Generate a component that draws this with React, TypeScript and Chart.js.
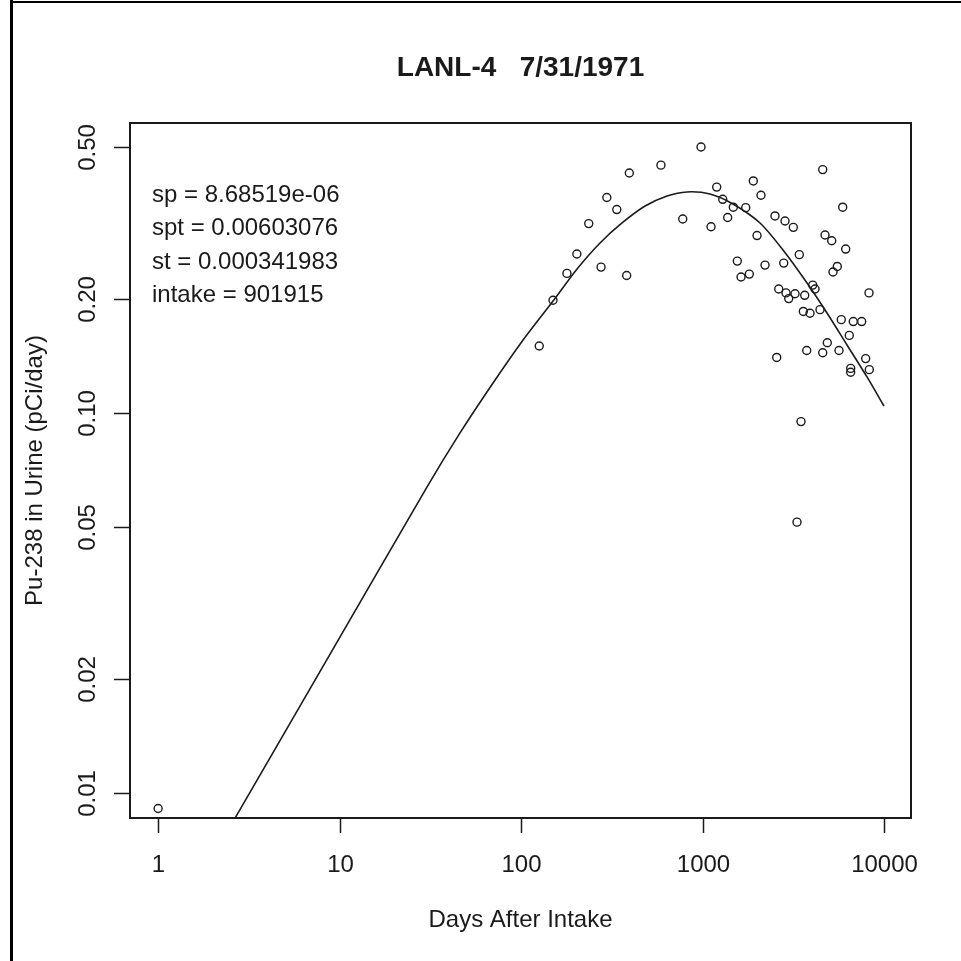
import React, { useEffect, useRef } from "react";
import { Chart, registerables } from "chart.js";

Chart.register(...registerables);

// ---- text ----
const chartTitle = "LANL-4   7/31/1971";
const xAxisTitle = "Days After Intake";
const yAxisTitle = "Pu-238 in Urine (pCi/day)";
const fitLabels = [
  "sp = 8.68519e-06",
  "spt = 0.00603076",
  "st = 0.000341983",
  "intake = 901915",
];

// ---- axes ----
const xTickValues = [1, 10, 100, 1000, 10000];
const xTickLabels = ["1", "10", "100", "1000", "10000"];
const yTickValues = [0.01, 0.02, 0.05, 0.1, 0.2, 0.5];
const yTickLabels = ["0.01", "0.02", "0.05", "0.10", "0.20", "0.50"];
const xRange = [0.701, 14087];
const yRange = [0.00859, 0.5796];

// ---- measured samples ----
const sampleDays = [
  1, 126, 150, 179, 203, 236, 276, 297, 337, 382, 395, 590, 778, 981, 1114,
  1197, 1292, 1376, 1478, 1555, 1630, 1730, 1811, 1905, 1997, 2100, 2210,
  2508, 2564, 2630, 2802, 2848, 2884, 2985, 3165, 3233, 3316, 3414, 3489,
  3593, 3657, 3751, 3911, 4048, 4168, 4441, 4596, 4596, 4732, 4871, 5151,
  5236, 5529, 5650, 5817, 5921, 6151, 6437, 6553, 6553, 6773, 7535, 7927,
  8269, 8300,
];
const sampleUrine = [
  0.0091, 0.15, 0.198, 0.233, 0.262, 0.315, 0.242, 0.369, 0.343, 0.23, 0.428,
  0.449, 0.324, 0.501, 0.309, 0.393, 0.365, 0.327, 0.348, 0.251, 0.228, 0.347,
  0.232, 0.408, 0.293, 0.374, 0.245, 0.33, 0.14, 0.212, 0.248, 0.32, 0.207,
  0.2, 0.308, 0.206, 0.0516, 0.261, 0.0949, 0.185, 0.204, 0.146, 0.183, 0.217,
  0.212, 0.187, 0.437, 0.144, 0.294, 0.153, 0.284, 0.235, 0.243, 0.146, 0.176,
  0.348, 0.27, 0.16, 0.131, 0.128, 0.174, 0.174, 0.139, 0.207, 0.13,
];

// ---- fitted model curve ----
const fitDays = [
  2.66, 8.98, 30.35, 46.1, 70.1, 102.6, 150.1, 203.5, 272.4, 360.2, 482.3,
  637.6, 821.4, 1100, 1472, 2074, 2777, 3766, 4853, 6254, 8061, 10000,
];
const fitUrine = [
  0.0086, 0.02343, 0.0639, 0.0886, 0.1199, 0.1556, 0.1971, 0.2393, 0.2802,
  0.3162, 0.3504, 0.3725, 0.3817, 0.377, 0.3548, 0.3162, 0.2685, 0.2198,
  0.1833, 0.151, 0.1244, 0.1043,
];

const FONT = '"Liberation Sans", Arial, Helvetica, sans-serif';
const INK = "#1a1a1a";

const rStylePlugin = {
  id: "rStyle",
  afterDraw(chart: any) {
    const { ctx, chartArea: a, scales } = chart;
    const xs = scales.x;
    const ys = scales.y;
    ctx.save();

    // figure frame (top and left edges)
    ctx.fillStyle = "#000";
    ctx.fillRect(10, 1, chart.width - 10, 2);
    ctx.fillRect(10, 0, 3, chart.height);

    // plot box
    ctx.strokeStyle = INK;
    ctx.lineWidth = 2;
    ctx.strokeRect(a.left, a.top, a.right - a.left, a.bottom - a.top);

    ctx.fillStyle = INK;
    ctx.lineWidth = 1.5;

    // x axis ticks + labels
    ctx.font = `24px ${FONT}`;
    ctx.textAlign = "center";
    ctx.textBaseline = "alphabetic";
    xTickValues.forEach((v, i) => {
      const px = Math.round(xs.getPixelForValue(v)) + 0.5;
      ctx.beginPath();
      ctx.moveTo(px, a.bottom);
      ctx.lineTo(px, a.bottom + 15);
      ctx.stroke();
      ctx.fillText(xTickLabels[i], px, 872);
    });

    // y axis ticks + rotated labels
    yTickValues.forEach((v, i) => {
      const py = Math.round(ys.getPixelForValue(v)) + 0.5;
      ctx.beginPath();
      ctx.moveTo(a.left - 16, py);
      ctx.lineTo(a.left, py);
      ctx.stroke();
      ctx.save();
      ctx.translate(95, py);
      ctx.rotate(-Math.PI / 2);
      ctx.fillText(yTickLabels[i], 0, 0);
      ctx.restore();
    });

    // axis titles
    ctx.fillText(xAxisTitle, (a.left + a.right) / 2, 927);
    ctx.save();
    ctx.translate(42, (a.top + a.bottom) / 2);
    ctx.rotate(-Math.PI / 2);
    ctx.fillText(yAxisTitle, 0, 0);
    ctx.restore();

    // main title
    ctx.font = `bold 28px ${FONT}`;
    ctx.fillText(chartTitle, (a.left + a.right) / 2, 76);

    // fit parameter annotations
    ctx.font = `24px ${FONT}`;
    ctx.textAlign = "left";
    fitLabels.forEach((t, i) => {
      ctx.fillText(t, 152, 202 + i * 33.3);
    });

    ctx.restore();
  },
};

export default function App() {
  const canvasRef = useRef<HTMLCanvasElement | null>(null);

  useEffect(() => {
    const canvas = canvasRef.current;
    if (!canvas) return;

    const samples = sampleDays.map((d, i) => ({ x: d, y: sampleUrine[i] }));
    const fit = fitDays.map((d, i) => ({ x: d, y: fitUrine[i] }));

    const chart = new Chart(canvas, {
      type: "scatter",
      data: {
        datasets: [
          {
            label: "model",
            data: fit,
            showLine: true,
            pointRadius: 0,
            borderColor: INK,
            borderWidth: 1.6,
            tension: 0.25,
            fill: false,
          } as any,
          {
            label: "urine",
            data: samples,
            pointStyle: "circle",
            pointRadius: 4,
            pointBorderWidth: 1.4,
            pointBackgroundColor: "rgba(0,0,0,0)",
            pointBorderColor: INK,
            showLine: false,
          } as any,
        ],
      },
      options: {
        responsive: false,
        animation: false,
        devicePixelRatio: 1,
        layout: {
          autoPadding: false,
          padding: { left: 0, top: 123, right: 50, bottom: 0 },
        },
        plugins: {
          legend: { display: false },
          tooltip: { enabled: false },
          title: { display: false },
        },
        scales: {
          x: {
            type: "logarithmic",
            position: "bottom",
            min: xRange[0],
            max: xRange[1],
            afterBuildTicks: (s: any) => {
              s.ticks = xTickValues.map((v) => ({ value: v }));
            },
            afterFit: (s: any) => {
              s.height = 143;
            },
            ticks: { display: false },
            grid: { display: false },
            border: { display: false },
          },
          y: {
            type: "logarithmic",
            position: "left",
            min: yRange[0],
            max: yRange[1],
            afterBuildTicks: (s: any) => {
              s.ticks = yTickValues.map((v) => ({ value: v }));
            },
            afterFit: (s: any) => {
              s.width = 130;
            },
            ticks: { display: false },
            grid: { display: false },
            border: { display: false },
          },
        },
      } as any,
      plugins: [rStylePlugin],
    });

    return () => chart.destroy();
  }, []);

  return (
    <div
      style={{
        position: "absolute",
        left: 0,
        top: 0,
        width: 961,
        height: 961,
        background: "#fff",
      }}
    >
      <canvas
        ref={canvasRef}
        width={961}
        height={961}
        style={{ display: "block", width: 961, height: 961 }}
      />
    </div>
  );
}
